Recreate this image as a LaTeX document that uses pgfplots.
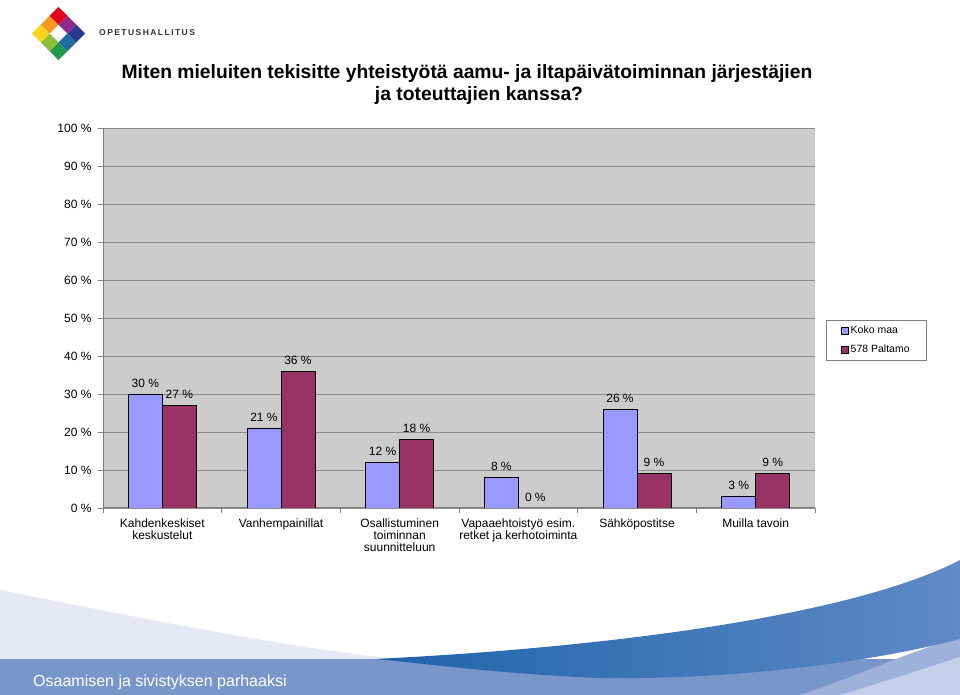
\documentclass[border=0pt]{standalone}
\usepackage{fontspec}
\setmainfont{Liberation Sans}
\usepackage{pgfplots}
\pgfplotsset{compat=1.18}

\definecolor{kokomaa}{HTML}{9999FF}
\definecolor{paltamo}{HTML}{993366}
\definecolor{plotbg}{HTML}{CCCCCC}
\definecolor{gridc}{HTML}{8C8C8C}
\definecolor{axisc}{HTML}{808080}
\definecolor{wavepale}{HTML}{E6E9F3}
\definecolor{band}{HTML}{7896CA}
\definecolor{bandlight}{HTML}{9DB1DB}
\definecolor{bandlightest}{HTML}{C4CFEA}
\definecolor{swooshdark}{HTML}{1F63AA}
\definecolor{swooshlight}{HTML}{5F8AC7}
\definecolor{lgred}{HTML}{E2001A}
\definecolor{lgpurple}{HTML}{8E2C8E}
\definecolor{lgblue}{HTML}{2B3990}
\definecolor{lgteal}{HTML}{1F6E9E}
\definecolor{lggreen}{HTML}{1E9A4A}
\definecolor{lgygreen}{HTML}{8DBF3F}
\definecolor{lgyellow}{HTML}{F9D21A}
\definecolor{lgorange}{HTML}{F39A1E}

\newcommand\fs[1]{\fontsize{#1}{#1}\selectfont}

\begin{document}
\begin{tikzpicture}[x=1pt,y=1pt]
\fill[white] (0,0) rectangle (960,695);
\path[use as bounding box] (0,0) rectangle (960,695);

% background waves
\fill[wavepale] (0,105) .. controls (150,75) and (300,45) .. (400,36) -- (0,36) -- cycle;
\fill[band] (0,0) rectangle (960,36);
\fill[bandlight] (960,58) .. controls (900,40) and (860,20) .. (800,0) -- (960,0) -- cycle;
\fill[bandlightest] (960,38) .. controls (920,25) and (880,12) .. (840,0) -- (960,0) -- cycle;
\shade[left color=swooshdark, right color=swooshlight]
  (375,36) .. controls (600,47) and (850,78) .. (960,135)
  -- (960,56) .. controls (860,30) and (720,15) .. (600,17)
  .. controls (500,21) and (420,32) .. (375,36) -- cycle;
\node[anchor=base west, text=white, font=\fs{16}, inner sep=0pt] at (33,8) {Osaamisen ja sivistyksen parhaaksi};

% logo
\begin{scope}[shift={(58.5,661.5)}, rotate=45]
  \def\c{12.5}
  \fill[lggreen]  (-18.75,-18.75) rectangle ++(\c,\c);
  \fill[lgteal]   (-6.25,-18.75) rectangle ++(\c,\c);
  \fill[lgblue]   (6.25,-18.75) rectangle ++(\c,\c);
  \fill[lgygreen] (-18.75,-6.25) rectangle ++(\c,\c);
  \fill[lgpurple] (6.25,-6.25) rectangle ++(\c,\c);
  \fill[lgyellow] (-18.75,6.25) rectangle ++(\c,\c);
  \fill[lgorange] (-6.25,6.25) rectangle ++(\c,\c);
  \fill[lgred]    (6.25,6.25) rectangle ++(\c,\c);
\end{scope}
\node[anchor=west, inner sep=0pt, text=black!80, font=\bfseries\fs{8.5}\addfontfeature{LetterSpace=17}] at (99,662) {OPETUSHALLITUS};

% title
\node[anchor=base, inner sep=0pt, font=\bfseries\fs{19.3}] at (467,616) {Miten mieluiten tekisitte yhteistyötä aamu- ja iltapäivätoiminnan järjestäjien};
\node[anchor=base, inner sep=0pt, font=\bfseries\fs{19.3}] at (479,594) {ja toteuttajien kanssa?};

\begin{axis}[
  at={(103pt,187pt)}, anchor=south west,
  width=712pt, height=380pt, scale only axis,
  ybar, bar width=34pt, ybar=0pt,
  ymin=0, ymax=100, xmin=-0.5, xmax=5.5,
  axis background/.style={fill=plotbg},
  axis lines=left,
  axis line style={-, draw=axisc, line width=1pt},
  ytick={0,10,...,100},
  ymajorgrids, grid style={draw=gridc, line width=0.9pt},
  yticklabel={\pgfmathprintnumber{\tick}~\%},
  /pgf/number format/assume math mode=true,
  xtick={0,...,5},
  xticklabels={{Kahdenkeskiset\\keskustelut},Vanhempainillat,{Osallistuminen\\toiminnan\\suunnitteluun},{Vapaaehtoistyö esim.\\retket ja kerhotoiminta},Sähköpostitse,Muilla tavoin},
  minor xtick={-0.5,0.5,...,5.5},
  major x tick style={draw=none},
  tick style={draw=axisc, line width=0.8pt},
  tick align=outside, major tick length=5pt, minor tick length=5pt,
  yticklabel style={font=\fs{12}, xshift=-3pt},
  xticklabel style={align=center, font=\fs{12}, text depth=0pt, yshift=-2pt},
  nodes near coords={\pgfmathprintnumber{\pgfplotspointmeta}~\%},
  every node near coord/.append style={font=\fs{12}, text=black, yshift=3pt},
  legend style={at={(1.0154,0.4947)}, anchor=north west, draw=axisc, fill=white,
    font=\fs{10.5}, inner xsep=15pt, inner ysep=4pt, row sep=6pt},
  legend cell align=left,
]
\addplot[fill=kokomaa, draw=black, line width=0.8pt,
  legend image code/.code={\draw[fill=kokomaa, draw=black, line width=0.5pt] (0pt,-3.5pt) rectangle (7pt,3.5pt);}]
  coordinates {(0,30) (1,21) (2,12) (3,8) (4,26) (5,3)};
\addplot[fill=paltamo, draw=black, line width=0.8pt,
  legend image code/.code={\draw[fill=paltamo, draw=black, line width=0.5pt] (0pt,-3.5pt) rectangle (7pt,3.5pt);}]
  coordinates {(0,27) (1,36) (2,18) (3,0) (4,9) (5,9)};
\legend{Koko maa,578 Paltamo}
\end{axis}
\end{tikzpicture}
\end{document}
